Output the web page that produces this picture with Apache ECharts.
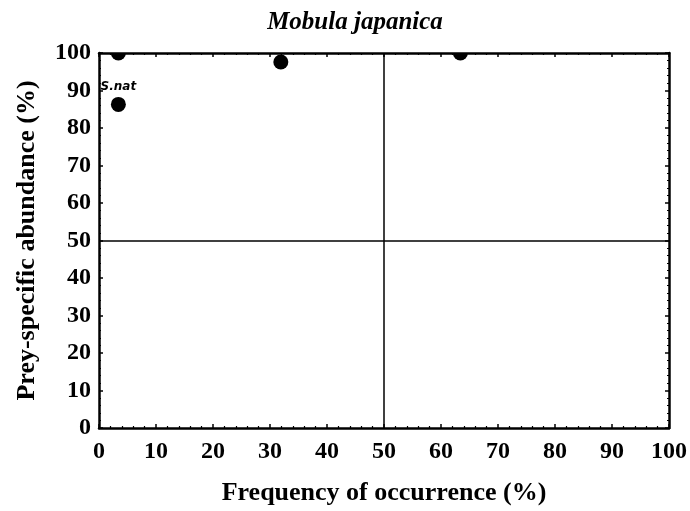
<!DOCTYPE html>
<html><head><meta charset="utf-8">
<script src="https://cdn.jsdelivr.net/npm/echarts@6/dist/echarts.min.js"></script>
<style>html,body{margin:0;padding:0;background:#fff}#c{width:690px;height:511px}</style>
</head><body><div id="c"></div>
<script>
const freqOccurrence = [3.4, 3.4, 31.9, 63.4];
const preyAbundance = [100, 86.3, 97.6, 100];
const pointLabels = ['', 'S.nat', '', ''];
const xTicks = [0,10,20,30,40,50,60,70,80,90,100];
const yTicks = [0,10,20,30,40,50,60,70,80,90,100];

const serif = '"Liberation Serif", "Times New Roman", serif';
const chart = echarts.init(document.getElementById('c'));
const data = freqOccurrence.map((x, i) => [x, preyAbundance[i]]);
const tickStyle = {show: true, inside: true, length: 4, lineStyle: {color: '#000', width: 1.5}};
const minorStyle = {show: true, splitNumber: 5, length: 2, lineStyle: {color: '#000', width: 1.2}};
const lineStyleAx = {show: true, onZero: false, lineStyle: {color: '#000', width: 2.5}};
chart.setOption({
  animation: false,
  backgroundColor: '#fff',
  title: {text: 'Mobula japanica', left: 350, top: 5, textAlign: 'center',
    textStyle: {fontFamily: serif, fontStyle: 'italic', fontWeight: 'bold', fontSize: 25, color: '#000'}},
  grid: {left: 99, right: 20, top: 53, bottom: 83},
  xAxis: [{
    type: 'value', min: xTicks[0], max: xTicks[xTicks.length-1], interval: 10,
    name: 'Frequency of occurrence (%)', nameLocation: 'middle', nameGap: 52,
    nameTextStyle: {fontFamily: serif, fontWeight: 'bold', fontSize: 26, color: '#000'},
    axisLine: lineStyleAx,
    axisTick: tickStyle, minorTick: minorStyle,
    axisLabel: {fontFamily: serif, fontWeight: 'bold', fontSize: 24, color: '#000', margin: 12},
    splitLine: {show: false}
  }, {
    type: 'value', position: 'top', min: xTicks[0], max: xTicks[xTicks.length-1], interval: 10,
    axisLine: lineStyleAx,
    axisTick: tickStyle, minorTick: minorStyle, axisLabel: {show: false}, splitLine: {show: false}
  }],
  yAxis: [{
    type: 'value', min: yTicks[0], max: yTicks[yTicks.length-1], interval: 10,
    name: 'Prey-specific abundance (%)', nameLocation: 'middle', nameGap: 59,
    nameTextStyle: {fontFamily: serif, fontWeight: 'bold', fontSize: 26, color: '#000'},
    axisLine: lineStyleAx,
    axisTick: tickStyle, minorTick: minorStyle,
    axisLabel: {fontFamily: serif, fontWeight: 'bold', fontSize: 24, color: '#000', margin: 8},
    splitLine: {show: false}
  }, {
    type: 'value', position: 'right', min: yTicks[0], max: yTicks[yTicks.length-1], interval: 10,
    axisLine: lineStyleAx,
    axisTick: tickStyle, minorTick: minorStyle, axisLabel: {show: false}, splitLine: {show: false}
  }],
  series: [{
    type: 'custom', data: data, clip: true, z: 1,
    renderItem: function (params, api) {
      const p = api.coord([api.value(0), api.value(1)]);
      const lbl = pointLabels[params.dataIndex];
      return {
        type: 'group',
        children: [
          {type: 'circle', shape: {cx: p[0], cy: p[1], r: 7.5}, style: {fill: '#000'}},
          {type: 'text', x: p[0], y: p[1] - 12, style: {text: lbl, textAlign: 'center', textVerticalAlign: 'bottom',
            font: 'italic bold 12px "DejaVu Sans", sans-serif', fill: '#000'}}
        ]
      };
    },
    markLine: {
      silent: true, symbol: 'none', label: {show: false},
      lineStyle: {color: '#000', width: 1.5, type: 'solid'},
      data: [{xAxis: 50}, {yAxis: 50}]
    }
  }, {
    type: 'scatter', xAxisIndex: 1, yAxisIndex: 1, data: [], silent: true
  }]
});
</script></body></html>
